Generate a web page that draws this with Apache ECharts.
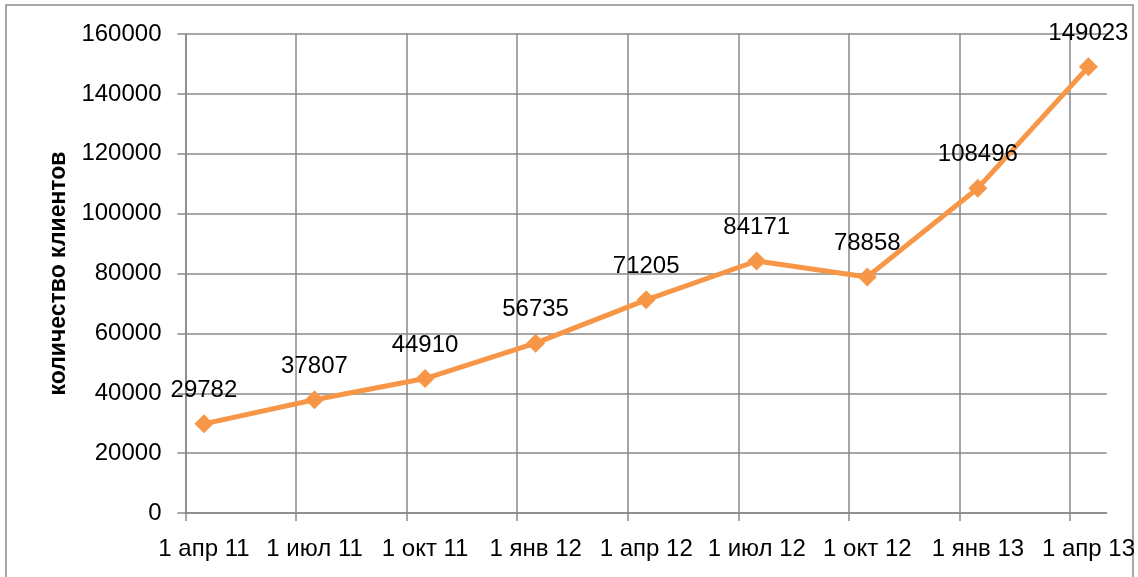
<!DOCTYPE html>
<html>
<head>
<meta charset="utf-8">
<script src="https://cdn.jsdelivr.net/npm/echarts@6/dist/echarts.min.js"></script>
<style>
  html, body { margin: 0; padding: 0; background: #fff; }
  #chart { width: 1138px; height: 577px; }
</style>
</head>
<body>
<div id="chart"></div>
<script>
// подписи оси X (каждый квартал)
const tickLabels = ['1 апр 11', '1 июл 11', '1 окт 11', '1 янв 12', '1 апр 12', '1 июл 12', '1 окт 12', '1 янв 13', '1 апр 13'];
// позиция точек в месяцах от 1 апр 11
const monthPos = [0.5, 3.5, 6.5, 9.5, 12.5, 15.5, 18.5, 21.5, 24.5];
// количество клиентов
const clients = [29782, 37807, 44910, 56735, 71205, 84171, 78858, 108496, 149023];

const font = 'Liberation Sans';
const chart = echarts.init(document.getElementById('chart'));

const option = {
  animation: false,
  grid: { left: 185.5, right: 31, top: 34, bottom: 64 },
  graphic: [{
    type: 'rect',
    shape: { x: 6, y: 5, width: 1127, height: 620 },
    style: { fill: 'none', stroke: '#8c8c8c', lineWidth: 1.5 },
    silent: true
  }],
  xAxis: {
    type: 'value',
    min: 0,
    max: 25,
    interval: 3,
    axisLine: { show: true, lineStyle: { color: '#898989', width: 1.5 } },
    axisTick: { show: true, length: 8, lineStyle: { color: '#898989', width: 1.5 } },
    splitLine: { show: true, showMaxLine: false, lineStyle: { color: '#898989', width: 1.5 } },
    axisLabel: {
      showMaxLabel: false,
      margin: 24,
      padding: [0, 0, 0, 37],
      color: '#000',
      fontFamily: font,
      fontSize: 24,
      formatter: function (v) {
        const i = Math.round(v / 3);
        return (v % 3 === 0 && tickLabels[i]) ? tickLabels[i] : '';
      }
    }
  },
  yAxis: {
    type: 'value',
    min: 0,
    max: 160000,
    interval: 20000,
    name: 'количество клиентов',
    nameLocation: 'middle',
    nameGap: 110,
    nameTextStyle: { fontFamily: font, fontSize: 23, fontWeight: 'bold', color: '#000' },
    axisLine: { show: true, lineStyle: { color: '#898989', width: 1.5 } },
    axisTick: { show: true, length: 8, lineStyle: { color: '#898989', width: 1.5 } },
    splitLine: { show: true, lineStyle: { color: '#898989', width: 1.5 } },
    axisLabel: {
      margin: 24, color: '#000', fontFamily: font, fontSize: 24,
      formatter: v => String(v)
    }
  },
  series: [{
    type: 'line',
    data: monthPos.map((m, i) => [m, clients[i]]),
    symbol: 'diamond',
    symbolSize: 19,
    itemStyle: { color: '#F79646' },
    lineStyle: { color: '#F79646', width: 5 },
    label: {
      show: true,
      position: 'top',
      distance: 12,
      color: '#000',
      fontFamily: font,
      fontSize: 24,
      formatter: p => String(p.value[1])
    }
  }]
};
chart.setOption(option);
</script>
</body>
</html>
